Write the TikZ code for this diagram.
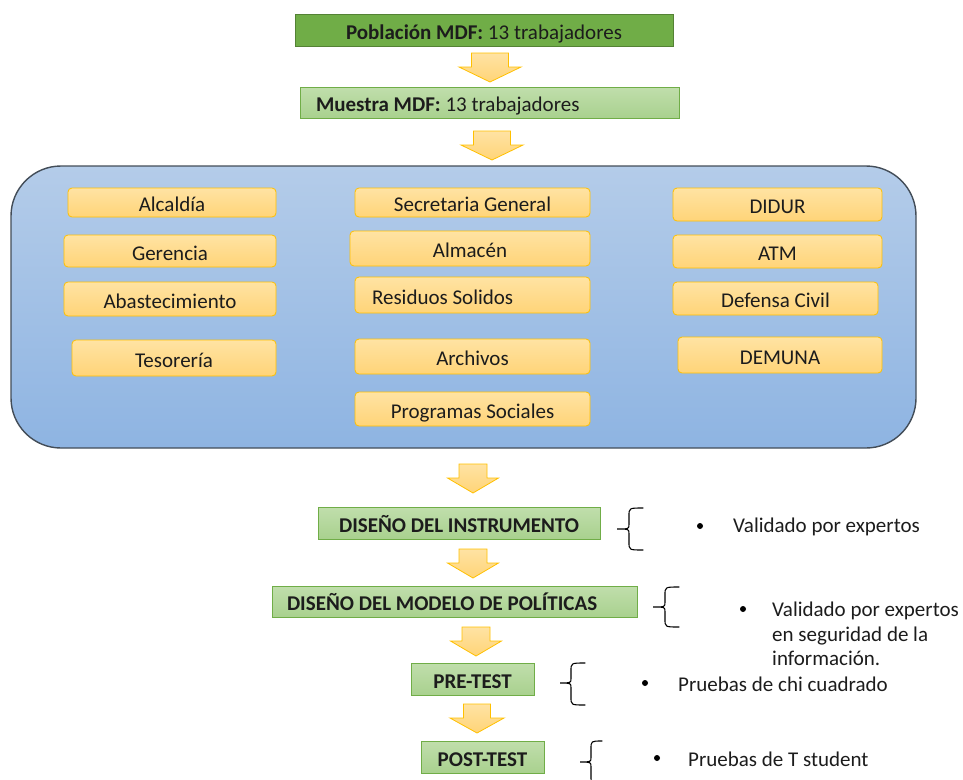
\documentclass[tikz,border=0pt]{standalone}
\usepackage{fontspec}
\setmainfont{Carlito}
\usepackage{xcolor}

\definecolor{verdeosc}{HTML}{70AD47}
\definecolor{verdeborde}{HTML}{548235}
\definecolor{verdeclaro}{HTML}{A9D18E}
\definecolor{verdetop}{HTML}{C0DEAC}
\definecolor{naranja}{HTML}{FFC000}
\definecolor{naranjatop}{HTML}{FFE3A3}
\definecolor{naranjabot}{HTML}{FFD478}
\definecolor{azultop}{HTML}{B4CCE9}
\definecolor{azulbot}{HTML}{8EB4E2}
\definecolor{azulborde}{HTML}{434D58}
\definecolor{texto}{HTML}{1C1C1C}

% flecha de bloque: centro x, y superior, medio tallo, media cabeza
\newcommand{\flecha}[4]{%
  \draw[flechabox] (#1-#3,#2) -- (#1+#3,#2) -- (#1+#3,#2+14) -- (#1+#4,#2+14)
    -- (#1,#2+29) -- (#1-#4,#2+14) -- (#1-#3,#2+14) -- cycle;}

\begin{document}
\begin{tikzpicture}[x=1pt,y=-1pt,font=\fontsize{21}{24.5}\selectfont,line cap=round,
  text=texto,
  cajaosc/.style={draw=verdeborde,fill=verdeosc,line width=0.8pt,inner sep=0pt,text height=18pt,text depth=0pt},
  cajaverde/.style={draw=verdeosc,top color=verdetop,bottom color=verdeclaro,line width=0.8pt,inner sep=0pt,text height=18pt,text depth=0pt},
  cajanar/.style={draw=naranja,top color=naranjatop,bottom color=naranjabot,line width=0.8pt,rounded corners=4pt,inner sep=0pt,text height=18pt,text depth=0pt},
  flechabox/.style={draw=naranja,top color=naranjatop,bottom color=naranjabot,line width=0.8pt,line join=miter},
  llave/.style={draw=black,line width=1.1pt},
  vineta/.style={fill=black}]
\useasboundingbox (0,0) rectangle (963,779);

% poblacion y muestra
\node[cajaosc,minimum width=378,minimum height=32] (poblacion) at (484,30) {\textbf{Población MDF:} 13 trabajadores};
\flecha{490}{53}{18.5}{31}
\node[cajaverde,minimum width=379,minimum height=31,text width=347,inner xsep=16,align=flush left] (muestra) at (489.5,102.5) {\textbf{Muestra MDF:} 13 trabajadores};
\flecha{492}{131}{18.5}{31}

% areas de la municipalidad
\node[draw=azulborde,top color=azultop,bottom color=azulbot,line width=1.4pt,rounded corners=50pt,minimum width=905,minimum height=282] (areas) at (463.5,307) {};

\node[cajanar,minimum width=208,minimum height=29] (alcaldia) at (172,202.5) {Alcaldía};
\node[cajanar,minimum width=212,minimum height=32] (gerencia) at (170,251) {Gerencia};
\node[cajanar,minimum width=212,minimum height=34] (abast) at (170,299) {Abastecimiento};
\node[cajanar,minimum width=204,minimum height=36] (tesoreria) at (174,358) {Tesorería};

\node[cajanar,minimum width=235,minimum height=29] (secretaria) at (472.5,202.5) {Secretaria General};
\node[cajanar,minimum width=240,minimum height=35] (almacen) at (470,248.5) {Almacén};
\node[cajanar,minimum width=235,minimum height=36,text width=201,inner xsep=17,align=flush left] (residuos) at (472.5,295) {Residuos Solidos};
\node[cajanar,minimum width=235,minimum height=35] (archivos) at (472.5,356.5) {Archivos};
\node[cajanar,minimum width=235,minimum height=34] (programas) at (472.5,409) {Programas Sociales};

\node[cajanar,minimum width=209,minimum height=33] (didur) at (777.5,204.5) {DIDUR};
\node[cajanar,minimum width=209,minimum height=33] (atm) at (777.5,251.5) {ATM};
\node[cajanar,minimum width=205,minimum height=33] (defensa) at (775.5,298.5) {Defensa Civil};
\node[cajanar,minimum width=204,minimum height=36] (demuna) at (780,355) {DEMUNA};

% etapas
\flecha{473}{464}{14}{25.5}
\node[cajaverde,minimum width=282,minimum height=32] (instrumento) at (459,523) {\textbf{DISEÑO DEL INSTRUMENTO}};
\flecha{473}{549}{14}{25.5}
\node[cajaverde,minimum width=365,minimum height=31,text width=335,inner xsep=15,align=flush left] (modelo) at (454.5,601.5) {\textbf{DISEÑO DEL MODELO DE POLÍTICAS}};
\flecha{476}{627}{14}{25.5}
\node[cajaverde,minimum width=123,minimum height=32] (pretest) at (472.5,679) {\textbf{PRE-TEST}};
\flecha{477}{704}{13.5}{27}
\node[cajaverde,minimum width=123,minimum height=32] (posttest) at (482.5,757) {\textbf{POST-TEST}};

% llaves
\draw[llave] (643,508) .. controls (629,508) .. (629,516) -- (629,524) .. controls (629,529) .. (617,529)
  .. controls (629,529) .. (629,534) -- (629,542) .. controls (629,550) .. (643,550);
\draw[llave] (679,587) .. controls (665,587) .. (665,595) -- (665,602) .. controls (665,607) .. (653,607)
  .. controls (665,607) .. (665,612) -- (665,619) .. controls (665,627) .. (679,627);
\draw[llave] (585,663) .. controls (571,663) .. (571,671) -- (571,678) .. controls (571,683) .. (560,683)
  .. controls (571,683) .. (571,688) -- (571,697) .. controls (571,705) .. (585,705);
\draw[llave] (602,741) .. controls (591,741) .. (591,749) -- (591,757) .. controls (591,762) .. (580,762)
  .. controls (591,762) .. (591,767) -- (591,776) .. controls (591,784) .. (602,784);

% observaciones
\fill[vineta] (700,526) circle (3);
\node[anchor=west,inner sep=0pt] (obsinst) at (733,527) {Validado por expertos};
\fill[vineta] (743,609) circle (3);
\node[anchor=west,inner sep=0pt,align=flush left] (obsmodelo) at (772,634) {Validado por expertos\\en seguridad de la\\información.};
\fill[vineta] (645,683) circle (3);
\node[anchor=west,inner sep=0pt] (obspre) at (678,684) {Pruebas de chi cuadrado};
\fill[vineta] (657,758) circle (3);
\node[anchor=west,inner sep=0pt] (obspost) at (688,759) {Pruebas de T student};
\end{tikzpicture}
\end{document}
